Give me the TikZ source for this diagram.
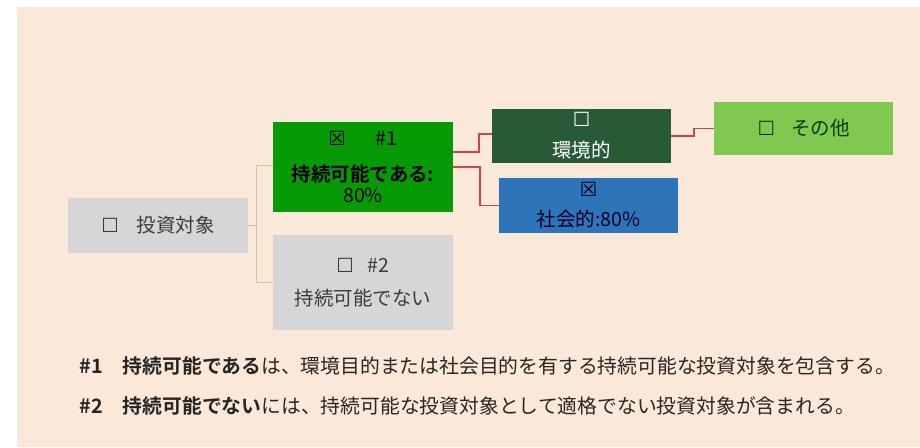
\documentclass[tikz,border=0pt]{standalone}
\usepackage{fontspec}
\usepackage{xcolor}
\setmainfont{Noto Sans CJK JP}[BoldFont={Noto Sans CJK JP Bold}]
\newfontfamily\symfont{DejaVu Sans}
\definecolor{peach}{HTML}{FAE8D8}
\definecolor{boxgrey}{HTML}{D6D6D8}
\definecolor{susgreen}{HTML}{069A06}
\definecolor{envgreen}{HTML}{285A38}
\definecolor{socblue}{HTML}{2E74B8}
\definecolor{othgreen}{HTML}{80C850}
\definecolor{linkred}{HTML}{C8474A}
\definecolor{linktan}{HTML}{D9C2A2}
\definecolor{txtgrey}{HTML}{3C3C3C}
\newcommand{\unbox}{{\symfont ☐}}
\newcommand{\xbox}{{\symfont ☒}}
\tikzset{
  catbox/.style={minimum width=180pt, inner sep=2pt, align=center,
    font=\fontsize{19.5}{20}\selectfont},
  tanlink/.style={draw=linktan, line width=1pt},
  redlink/.style={draw=linkred, line width=1.6pt},
  notetext/.style={anchor=west, text=black!85, font=\fontsize{19.8}{21}\selectfont}
}

\begin{document}
\begin{tikzpicture}[x=1pt,y=-1pt]
    \useasboundingbox (0,0) rectangle (920,447);
    \fill[peach] (17,7) rectangle (920,447);
    % tree boxes
    \node[catbox, fill=boxgrey, text=txtgrey, minimum height=55pt] (invest) at (158,225.5) {\unbox\hspace{18pt}投資対象};
    \node[catbox, fill=susgreen, text=black, minimum height=90pt] (sus) at (363,167) {\xbox\hspace{30pt}\#1\\[16pt]\textbf{持続可能である:}\\[1pt]80\%};
    \node[catbox, fill=boxgrey, text=txtgrey, minimum height=95pt] (nonsus) at (363,282.5) {\unbox\hspace{14pt}\#2\\[13pt]持続可能でない};
    \node[catbox, fill=envgreen, text=white, minimum width=179pt, minimum height=54pt] (env) at (581.5,136) {\unbox\\[11pt]環境的};
    \node[catbox, fill=socblue, text=black!60!blue!40!black, minimum width=179pt, minimum height=55pt] (soc) at (588.5,205.5) {\xbox\\[10pt]社会的:80\%};
    \node[catbox, fill=othgreen, text=black!75!green, minimum width=179pt, minimum height=53pt] (other) at (803.5,128.5) {\unbox\hspace{16pt}その他};
    % links
    \draw[tanlink] (invest.east) -- ++(8,0) |- ([yshift=2pt]sus.west);
    \draw[tanlink] (invest.east) -- ++(8,0) |- (nonsus.west);
    \draw[redlink] ([yshift=15pt]sus.east) -- ++(26,0) |- ([yshift=2pt]env.west);
    \draw[redlink] (sus.east) -- ++(27,0) |- (soc.west);
    \draw[redlink] (env.east) -- ++(23,0) |- (other.west);
    % notes
    \node[notetext] (note1) at (76,366) {\textbf{\#1\hspace{20pt}持続可能である}は、環境目的または社会目的を有する持続可能な投資対象を包含する。};
    \node[notetext] (note2) at (76,406) {\textbf{\#2\hspace{20pt}持続可能でない}には、持続可能な投資対象として適格でない投資対象が含まれる。};
\end{tikzpicture}
\end{document}
